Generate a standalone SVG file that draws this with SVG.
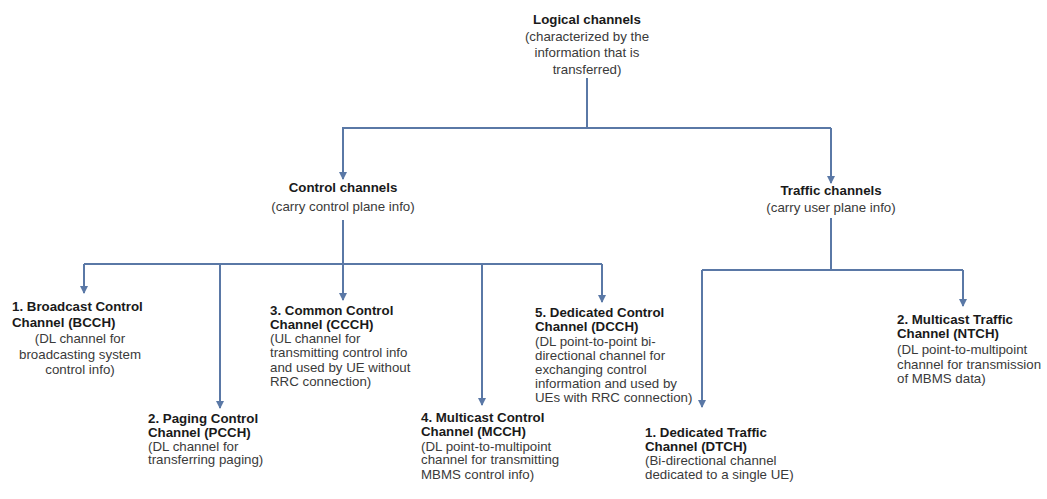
<svg xmlns="http://www.w3.org/2000/svg" width="1047" height="499" viewBox="0 0 1047 499">
  <style>
    .t { font-family: "Liberation Sans", Arial, sans-serif; font-size: 13.3px; }
    .b { font-weight: bold; fill: #1a1a1a; }
    .r { fill: #3a3a3a; }
    .c { text-anchor: middle; }
    .ln { stroke: #5a78a6; stroke-width: 2; fill: none; }
  </style>
  <defs>
    <marker id="ah" viewBox="0 0 8 8" refX="7" refY="4" markerWidth="4" markerHeight="4" orient="auto" markerUnits="strokeWidth">
      <path d="M0,0 L8,4 L0,8 Z" fill="#5a78a6"/>
    </marker>
  </defs>
  <rect width="1047" height="499" fill="#ffffff"/>

  <!-- connectors -->
  <g id="connectors">
    <path class="ln" d="M587,78 V128"/>
    <path class="ln" d="M342,128 H831"/>
    <path class="ln" d="M343,128 V179" marker-end="url(#ah)"/>
    <path class="ln" d="M831,128 V183" marker-end="url(#ah)"/>
    <!-- control channels fan-out -->
    <path class="ln" d="M343,220 V300" marker-end="url(#ah)"/>
    <path class="ln" d="M84,264 H602"/>
    <path class="ln" d="M84,264 V293" marker-end="url(#ah)"/>
    <path class="ln" d="M220,264 V408" marker-end="url(#ah)"/>
    <path class="ln" d="M482,264 V405" marker-end="url(#ah)"/>
    <path class="ln" d="M602,264 V302" marker-end="url(#ah)"/>
    <!-- traffic channels fan-out -->
    <path class="ln" d="M831,218 V270"/>
    <path class="ln" d="M702,270 H963"/>
    <path class="ln" d="M702,270 V407" marker-end="url(#ah)"/>
    <path class="ln" d="M963,270 V306" marker-end="url(#ah)"/>
  </g>

  <g id="logical" class="t">
    <text class="b c" x="587" y="24">Logical channels</text>
    <text class="r c" x="587" y="41">(characterized by the</text>
    <text class="r c" x="587" y="57">information that is</text>
    <text class="r c" x="587" y="74">transferred)</text>
  </g>

  <g id="control" class="t">
    <text class="b c" x="343" y="192">Control channels</text>
    <text class="r c" x="343" y="211">(carry control plane info)</text>
  </g>

  <g id="traffic" class="t">
    <text class="b c" x="831" y="195">Traffic channels</text>
    <text class="r c" x="831" y="212">(carry user plane info)</text>
  </g>

  <g id="bcch" class="t">
    <text class="b" x="12" y="311">1. Broadcast Control</text>
    <text class="b" x="12" y="327">Channel (BCCH)</text>
    <text class="r c" x="80" y="343">(DL channel for</text>
    <text class="r c" x="80" y="359">broadcasting system</text>
    <text class="r c" x="80" y="374">control info)</text>
  </g>

  <g id="pcch" class="t">
    <text class="b" x="148" y="423">2. Paging Control</text>
    <text class="b" x="148" y="437">Channel (PCCH)</text>
    <text class="r" x="148" y="451">(DL channel for</text>
    <text class="r" x="148" y="464">transferring paging)</text>
  </g>

  <g id="ccch" class="t">
    <text class="b" x="270" y="315">3. Common Control</text>
    <text class="b" x="270" y="329">Channel (CCCH)</text>
    <text class="r" x="270" y="343">(UL channel for</text>
    <text class="r" x="270" y="357">transmitting control info</text>
    <text class="r" x="270" y="372">and used by UE without</text>
    <text class="r" x="270" y="386">RRC connection)</text>
  </g>

  <g id="mcch" class="t">
    <text class="b" x="421" y="422">4. Multicast Control</text>
    <text class="b" x="421" y="436">Channel (MCCH)</text>
    <text class="r" x="421" y="451">(DL point-to-multipoint</text>
    <text class="r" x="421" y="464">channel for transmitting</text>
    <text class="r" x="421" y="479">MBMS control info)</text>
  </g>

  <g id="dcch" class="t">
    <text class="b" x="535" y="317">5. Dedicated Control</text>
    <text class="b" x="535" y="331">Channel (DCCH)</text>
    <text class="r" x="535" y="346">(DL point-to-point bi-</text>
    <text class="r" x="535" y="360">directional channel for</text>
    <text class="r" x="535" y="374">exchanging control</text>
    <text class="r" x="535" y="388">information and used by</text>
    <text class="r" x="535" y="402">UEs with RRC connection)</text>
  </g>

  <g id="dtch" class="t">
    <text class="b" x="645" y="437">1. Dedicated Traffic</text>
    <text class="b" x="645" y="451">Channel (DTCH)</text>
    <text class="r" x="645" y="465">(Bi-directional channel</text>
    <text class="r" x="645" y="479">dedicated to a single UE)</text>
  </g>

  <g id="ntch" class="t">
    <text class="b" x="897" y="324">2. Multicast Traffic</text>
    <text class="b" x="897" y="338">Channel (NTCH)</text>
    <text class="r" x="897" y="354">(DL point-to-multipoint</text>
    <text class="r" x="897" y="369">channel for transmission</text>
    <text class="r" x="897" y="383">of MBMS data)</text>
  </g>
</svg>
